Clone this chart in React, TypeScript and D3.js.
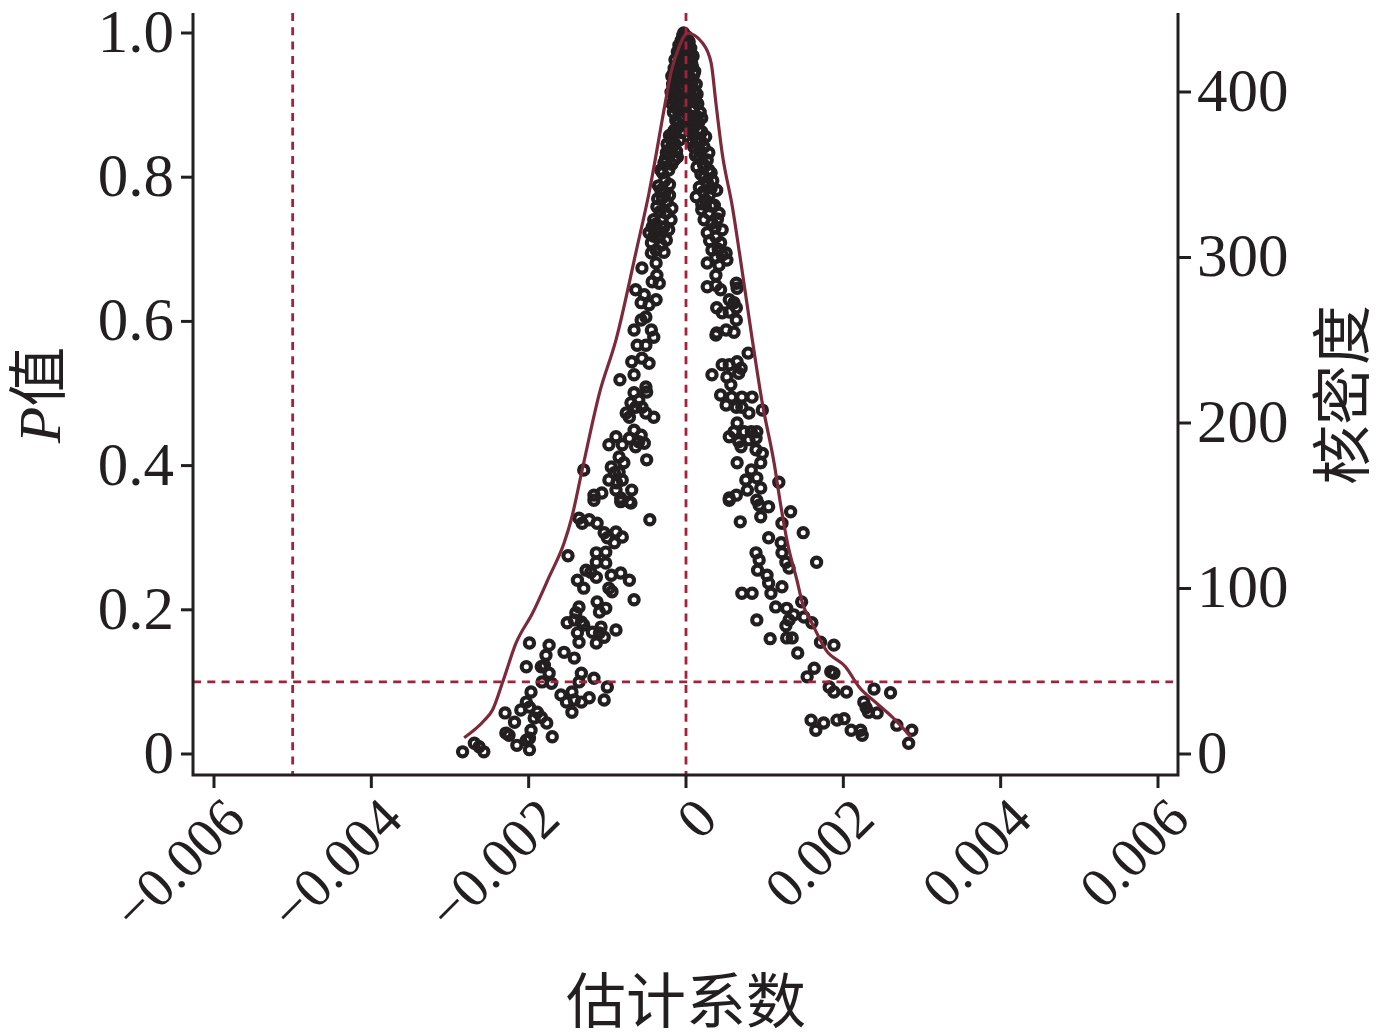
import React from 'react';
import * as d3 from 'd3';

// ---------- data ----------
const xTicks = [-0.006, -0.004, -0.002, 0, 0.002, 0.004, 0.006];
const xTickLabels = ['−0.006', '−0.004', '−0.002', '0', '0.002', '0.004', '0.006'];
const pTicks = [0, 0.2, 0.4, 0.6, 0.8, 1.0];
const pTickLabels = ['0', '0.2', '0.4', '0.6', '0.8', '1.0'];
const densityTicks = [0, 100, 200, 300, 400];
const densityTickLabels = ['0', '100', '200', '300', '400'];
const refLinesX = [-0.005, 0];
const refLineP = 0.1;

const xTitle = '估计系数';
const yLeftTitleItalic = 'P';
const yLeftTitleRest = '值';
const yRightTitle = '核密度';

// kernel density curve (estimated coefficient, density)
const densityX = [-0.00282, -0.00256, -0.00246, -0.00233, -0.00216, -0.00195, -0.00174, -0.00155, -0.00146, -0.00132,
  -0.0011, -0.00089, -0.00063, -0.00047, -0.00025, -0.00019, -0.00009, 0.00002, 0.00021, 0.00032,
  0.00038, 0.00046, 0.00059, 0.00068, 0.00083, 0.00097, 0.00112, 0.00121, 0.00129, 0.00141,
  0.00148, 0.0016, 0.00178, 0.00203, 0.0022, 0.00242, 0.00262, 0.00286];
const densityY = [9.8, 20.5, 26.6, 43.5, 67.1, 85.2, 107, 127.5, 141.4, 171.6,
  218.1, 250.2, 304.5, 339, 397, 412, 427, 435.6, 429.6, 417.5,
  393.4, 363, 330.5, 302.7, 254.4, 212, 175.8, 148.6, 127.5, 105.1,
  91.2, 79.2, 62.8, 52.6, 40.5, 30.8, 22.4, 10.3];

// scatter: [estimated coefficient, P value]
const points: [number, number][] = [
  [-0.00003, 1.0], [0.00001, 0.995],
  [-0.00004, 0.997], [-0.00006, 0.99], [-0.00009, 0.983], [-0.00005, 0.979], [-0.00011, 0.974], [-0.00008, 0.968], [-0.00014, 0.963], [-0.0001, 0.957], [-0.00015, 0.951], [-0.00011, 0.946], [-0.00018, 0.94], [-0.00013, 0.935], [-0.00017, 0.929], [-0.00014, 0.924], [-0.00019, 0.918], [-0.00011, 0.914], [-0.00015, 0.907], [-0.00008, 0.911], [-0.00018, 0.902], [-0.00013, 0.896],
  [0.00001, 0.993], [0.00004, 0.988], [-0.00001, 0.983], [0.00006, 0.979], [0.00003, 0.974], [0.00009, 0.968], [0.00004, 0.963], [-0.00001, 0.957], [0.00008, 0.954], [0.00001, 0.949], [0.0001, 0.943], [0.00005, 0.938], [-0.00001, 0.932], [0.00013, 0.929], [0.00006, 0.924], [0.00001, 0.918], [0.00014, 0.915], [0.00009, 0.91], [0.00004, 0.904], [0.00015, 0.902], [0.0001, 0.896], [0.00018, 0.89], [0.00013, 0.885], [0.00006, 0.879], [0.0002, 0.882],
  [-0.00002, 0.986], [0.00002, 0.978], [-0.00007, 0.972], [0.00005, 0.966], [-0.00003, 0.961], [0.00007, 0.959], [-0.00012, 0.955], [0.00002, 0.952], [-0.00006, 0.948], [0.00011, 0.947], [-0.00016, 0.944], [0.00003, 0.941], [-0.00008, 0.937], [0.00008, 0.933], [-0.00012, 0.93], [0.00003, 0.927], [-0.00005, 0.921], [0.00011, 0.92], [-0.00016, 0.915], [0.00004, 0.912], [-0.0001, 0.906], [0.00012, 0.907], [-0.00004, 0.899], [0.00007, 0.893], [-0.00016, 0.89], [0.00002, 0.887], [-0.00006, 0.884], [0.00016, 0.876], [-0.00011, 0.874], [0.00003, 0.872], [-0.00017, 0.86], [0.0001, 0.858],
  [-0.00009, 0.893], [-0.00013, 0.879], [-0.00015, 0.865], [-0.00011, 0.868], [-0.00019, 0.852], [-0.00018, 0.842], [-0.00025, 0.834], [-0.00028, 0.82], [-0.00015, 0.824], [-0.00032, 0.81], [-0.00022, 0.81], [-0.00011, 0.828], [-0.0003, 0.806], [-0.00032, 0.782], [-0.0003, 0.771], [-0.00024, 0.766], [-0.00037, 0.759], [-0.00018, 0.757], [-0.00025, 0.75], [-0.00041, 0.741], [-0.00019, 0.741], [-0.00043, 0.731], [-0.00028, 0.731], [-0.00047, 0.723], [-0.00034, 0.717], [-0.00025, 0.713], [-0.00044, 0.709], [-0.00038, 0.699],
  [-0.00021, 0.858], [-0.00024, 0.846], [-0.00014, 0.846], [-0.00021, 0.838], [-0.00012, 0.836], [-0.00026, 0.826], [-0.00018, 0.818], [-0.00008, 0.852], [-0.00006, 0.862],
  [-0.00027, 0.795], [-0.00021, 0.79], [-0.00035, 0.788], [-0.00027, 0.778], [-0.00036, 0.77], [-0.00021, 0.775], [-0.00033, 0.752], [-0.00031, 0.742], [-0.00038, 0.735], [-0.00022, 0.727], [-0.00035, 0.725], [-0.00041, 0.718], [-0.00031, 0.706],
  [0.00008, 0.87], [0.0002, 0.863], [0.00013, 0.852], [0.00025, 0.856], [0.0001, 0.842], [0.00023, 0.842], [0.00017, 0.828], [0.00027, 0.824], [0.00014, 0.814], [0.00029, 0.81], [0.00023, 0.8], [0.00017, 0.786], [0.00032, 0.785], [0.00039, 0.782], [0.00013, 0.773], [0.00025, 0.768], [0.00036, 0.761], [0.0002, 0.755], [0.00029, 0.75], [0.00042, 0.75], [0.00023, 0.741], [0.00033, 0.736], [0.00046, 0.727], [0.00027, 0.723], [0.00038, 0.717], [0.00044, 0.709], [0.00033, 0.699], [0.00051, 0.695],
  [0.00016, 0.866], [0.00005, 0.864], [0.00019, 0.85], [0.00007, 0.848], [0.00018, 0.836], [0.00029, 0.834], [0.00012, 0.83], [0.00022, 0.818], [0.00032, 0.806], [0.00019, 0.804],
  [0.00027, 0.793], [0.00034, 0.795], [0.00022, 0.78], [0.0003, 0.776], [0.0002, 0.763], [0.00032, 0.76], [0.0004, 0.742], [0.00037, 0.73], [0.0003, 0.712], [0.00041, 0.7],
  [-0.00044, 0.695], [-0.00028, 0.696], [-0.00056, 0.674], [-0.00038, 0.681], [-0.00037, 0.664], [-0.00043, 0.655], [-0.00034, 0.653], [-0.00064, 0.644], [-0.00053, 0.637], [-0.00038, 0.63], [-0.00057, 0.626], [-0.00047, 0.623], [-0.00057, 0.602], [-0.00051, 0.606], [-0.00066, 0.588], [-0.00044, 0.588], [-0.00041, 0.578], [-0.00062, 0.567], [-0.00051, 0.567], [-0.00069, 0.544], [-0.00056, 0.549], [-0.00047, 0.542], [-0.00066, 0.526], [-0.00084, 0.519], [-0.00051, 0.509], [-0.0005, 0.502], [-0.00066, 0.501], [-0.0007, 0.487], [-0.0006, 0.491], [-0.00064, 0.481], [-0.00056, 0.481], [-0.00076, 0.473], [-0.00072, 0.467], [-0.00051, 0.473], [-0.00041, 0.467], [-0.00066, 0.449], [-0.00057, 0.442], [-0.00072, 0.438], [-0.0006, 0.433], [-0.00064, 0.426], [-0.00053, 0.431], [-0.00089, 0.44], [-0.00098, 0.429], [-0.00081, 0.429], [-0.00085, 0.412], [-0.00079, 0.404], [-0.00095, 0.398], [-0.0005, 0.408], [-0.00091, 0.39], [-0.00085, 0.391], [-0.00081, 0.38], [-0.00088, 0.376], [-0.00098, 0.38], [-0.0013, 0.394], [-0.00117, 0.359], [-0.00107, 0.362], [-0.00089, 0.366], [-0.00069, 0.366], [-0.00083, 0.355], [-0.00072, 0.35],
  [0.00027, 0.681], [0.00038, 0.689], [0.00046, 0.692], [0.00052, 0.685], [0.00042, 0.678], [0.00038, 0.664], [0.00027, 0.648], [0.00038, 0.65], [0.00044, 0.644], [0.00064, 0.653], [0.00065, 0.646], [0.00039, 0.619], [0.00055, 0.63], [0.00061, 0.626], [0.00064, 0.619], [0.00046, 0.612], [0.00055, 0.613], [0.00064, 0.602], [0.00039, 0.584], [0.00051, 0.588], [0.00061, 0.585], [0.00038, 0.581], [0.00079, 0.556], [0.00046, 0.54], [0.00055, 0.54], [0.00065, 0.544], [0.0007, 0.535], [0.00067, 0.528], [0.00033, 0.526], [0.00052, 0.523], [0.00057, 0.512], [0.00044, 0.498], [0.00058, 0.495], [0.00071, 0.495], [0.00084, 0.495], [0.00051, 0.484], [0.00064, 0.481], [0.00071, 0.481], [0.0008, 0.473], [0.00097, 0.477], [0.00065, 0.459], [0.00061, 0.447], [0.00055, 0.44], [0.00074, 0.447], [0.00083, 0.447], [0.0009, 0.447], [0.00067, 0.433], [0.0008, 0.436], [0.00089, 0.438], [0.0007, 0.426], [0.00089, 0.422], [0.00097, 0.417], [0.00065, 0.404], [0.00095, 0.404], [0.00083, 0.394], [0.00076, 0.38], [0.0009, 0.383], [0.00078, 0.366], [0.00095, 0.369], [0.00118, 0.377], [0.00055, 0.355], [0.00064, 0.359], [0.0009, 0.352],
  [-0.00117, 0.352], [-0.00083, 0.35], [-0.0007, 0.348], [-0.00136, 0.327], [-0.00132, 0.32], [-0.00123, 0.325], [-0.00113, 0.32], [-0.00046, 0.325], [-0.00104, 0.307], [-0.00089, 0.308], [-0.00081, 0.301], [-0.00091, 0.293], [-0.001, 0.3], [-0.0015, 0.275], [-0.00114, 0.279], [-0.00102, 0.28], [-0.00114, 0.266], [-0.00102, 0.265], [-0.00127, 0.255], [-0.00121, 0.252], [-0.00114, 0.245], [-0.00138, 0.241], [-0.0013, 0.23], [-0.00095, 0.248], [-0.00083, 0.251], [-0.00072, 0.241], [-0.00098, 0.23], [-0.00094, 0.225], [-0.00066, 0.214], [-0.00113, 0.211], [-0.00102, 0.202], [-0.0011, 0.197], [-0.00136, 0.204], [-0.0014, 0.196], [-0.00151, 0.182], [-0.00142, 0.186], [-0.00133, 0.183], [-0.0013, 0.179], [-0.00138, 0.168], [-0.00136, 0.155], [-0.00119, 0.169], [-0.00108, 0.176], [-0.0011, 0.168], [-0.00104, 0.162], [-0.00114, 0.154], [-0.00089, 0.172], [-0.00199, 0.154], [-0.00174, 0.151], [-0.00178, 0.137], [-0.0018, 0.123], [-0.00184, 0.121], [-0.00174, 0.112], [-0.00203, 0.121], [-0.00155, 0.141], [-0.00142, 0.133], [-0.00133, 0.112], [-0.00117, 0.105], [-0.001, 0.093], [-0.00136, 0.1], [-0.00183, 0.1], [-0.00171, 0.098], [-0.00197, 0.086], [-0.00203, 0.072], [-0.0021, 0.061], [-0.00199, 0.065], [-0.00159, 0.082], [-0.00145, 0.086], [-0.00152, 0.072], [-0.00142, 0.075], [-0.00133, 0.072], [-0.00123, 0.078], [-0.00104, 0.075], [-0.00145, 0.058], [-0.00189, 0.058], [-0.00184, 0.051], [-0.00193, 0.05], [-0.00177, 0.043], [-0.00197, 0.033], [-0.00199, 0.022], [-0.00203, 0.019], [-0.0023, 0.057], [-0.00218, 0.044], [-0.00229, 0.029], [-0.00225, 0.026], [-0.0017, 0.024], [-0.00215, 0.012], [-0.00199, 0.006], [-0.00269, 0.015], [-0.00263, 0.01], [-0.00257, 0.003], [-0.00284, 0.003],
  [0.00055, 0.352], [0.00093, 0.345], [0.00105, 0.343], [0.00095, 0.329], [0.00133, 0.336], [0.00069, 0.322], [0.00122, 0.32], [0.00149, 0.307], [0.00105, 0.3], [0.00121, 0.293], [0.00122, 0.279], [0.00127, 0.266], [0.00131, 0.258], [0.00089, 0.279], [0.00093, 0.269], [0.00091, 0.255], [0.00166, 0.266], [0.00103, 0.248], [0.00105, 0.237], [0.00108, 0.223], [0.00122, 0.232], [0.00071, 0.223], [0.00084, 0.223], [0.00147, 0.211], [0.00114, 0.204], [0.00128, 0.202], [0.00137, 0.193], [0.00131, 0.186], [0.00127, 0.178], [0.0015, 0.19], [0.0016, 0.182], [0.0009, 0.186], [0.00107, 0.16], [0.00128, 0.161], [0.00135, 0.161], [0.00171, 0.155], [0.00188, 0.151], [0.00142, 0.14], [0.00163, 0.119], [0.00154, 0.107], [0.00184, 0.114], [0.00188, 0.112], [0.00182, 0.093], [0.00188, 0.086], [0.00204, 0.086], [0.00239, 0.09], [0.0026, 0.085], [0.00226, 0.072], [0.00229, 0.064], [0.00232, 0.058], [0.00243, 0.057], [0.00159, 0.047], [0.00165, 0.033], [0.00175, 0.043], [0.00192, 0.047], [0.00201, 0.049], [0.0021, 0.033], [0.00222, 0.033], [0.00224, 0.026], [0.00268, 0.04], [0.00287, 0.033], [0.00283, 0.015],
];

// ---------- chart ----------
const W = 1378;
const H = 1034;
const INK = '#231f20';
const REF = '#a3213f';
const CURVE = '#7c2a3b';
const SERIF = '"Liberation Serif", "Times New Roman", serif';
const CJK = '"Noto Sans CJK SC", "Noto Sans CJK JP", sans-serif';

export default function App() {
  const frameLeft = 193;
  const frameRight = 1178;
  const frameTop = 13;
  const frameBottom = 775;

  const x = d3.scaleLinear().domain([-0.006, 0.006]).range([214, 1158]);
  const yP = d3.scaleLinear().domain([0, 1]).range([754, 33]);
  const yD = d3.scaleLinear().domain([0, 400]).range([754, 92]);

  const densityPath = d3
    .line<number>()
    .x((_, i) => x(densityX[i]))
    .y((d) => yD(d))
    .curve(d3.curveMonotoneX)(densityY) as string;

  return (
    <svg
      width={W}
      height={H}
      viewBox={`0 0 ${W} ${H}`}
      style={{ position: 'absolute', left: 0, top: 0, background: '#fff' }}
    >
      <rect x={0} y={0} width={W} height={H} fill="#fff" />

      {/* scatter */}
      <g fill="none" stroke={INK} strokeWidth={4.2}>
        {points.map(([c, p], i) => (
          <circle key={i} cx={x(c)} cy={yP(p)} r={4.6} />
        ))}
      </g>

      {/* kernel density */}
      <path d={densityPath} fill="none" stroke={CURVE} strokeWidth={3.2} strokeLinejoin="round" />

      {/* reference lines */}
      <g stroke={REF} strokeWidth={2.8} strokeDasharray="8,6.3">
        {refLinesX.map((v) => (
          <line key={v} x1={x(v)} x2={x(v)} y1={frameTop} y2={frameBottom} />
        ))}
        <line x1={frameLeft} x2={frameRight - 5} y1={yP(refLineP)} y2={yP(refLineP)} />
      </g>

      {/* axes */}
      <g stroke={INK} strokeWidth={3} fill="none">
        <path d={`M${frameLeft},${frameTop}V${frameBottom}H${frameRight}V${frameTop}`} />
        {xTicks.map((t) => (
          <line key={'xt' + t} x1={x(t)} x2={x(t)} y1={frameBottom} y2={frameBottom + 13} />
        ))}
        {pTicks.map((t) => (
          <line key={'pt' + t} x1={frameLeft - 12} x2={frameLeft} y1={yP(t)} y2={yP(t)} />
        ))}
        {densityTicks.map((t) => (
          <line key={'dt' + t} x1={frameRight} x2={frameRight + 13} y1={yD(t)} y2={yD(t)} />
        ))}
      </g>

      {/* tick labels */}
      <g fill={INK} fontFamily={SERIF}>
        {pTicks.map((t, i) => (
          <text key={'pl' + t} x={174} y={yP(t) + 19} fontSize={61} textAnchor="end">
            {pTickLabels[i]}
          </text>
        ))}
        {densityTicks.map((t, i) => (
          <text key={'dl' + t} x={1197} y={yD(t) + 18.5} fontSize={61} textAnchor="start">
            {densityTickLabels[i]}
          </text>
        ))}
        {xTicks.map((t, i) => (
          <text
            key={'xl' + t}
            transform={`translate(${x(t) + 6},${frameBottom + 19}) rotate(-45)`}
            dy="0.7em"
            fontSize={56}
            textAnchor="end"
          >
            {xTickLabels[i]}
          </text>
        ))}
      </g>

      {/* titles */}
      <text x={686} y={1023} fontSize={60} fontFamily={CJK} fill={INK} textAnchor="middle">
        {xTitle}
      </text>
      <text transform="translate(60,395) rotate(-90)" fontSize={60} fill={INK} textAnchor="middle">
        <tspan fontFamily={SERIF} fontStyle="italic">{yLeftTitleItalic}</tspan>
        <tspan fontFamily={CJK}>{yLeftTitleRest}</tspan>
      </text>
      <text transform="translate(1364,395) rotate(-90)" fontSize={60} fontFamily={CJK} fill={INK} textAnchor="middle">
        {yRightTitle}
      </text>
    </svg>
  );
}
